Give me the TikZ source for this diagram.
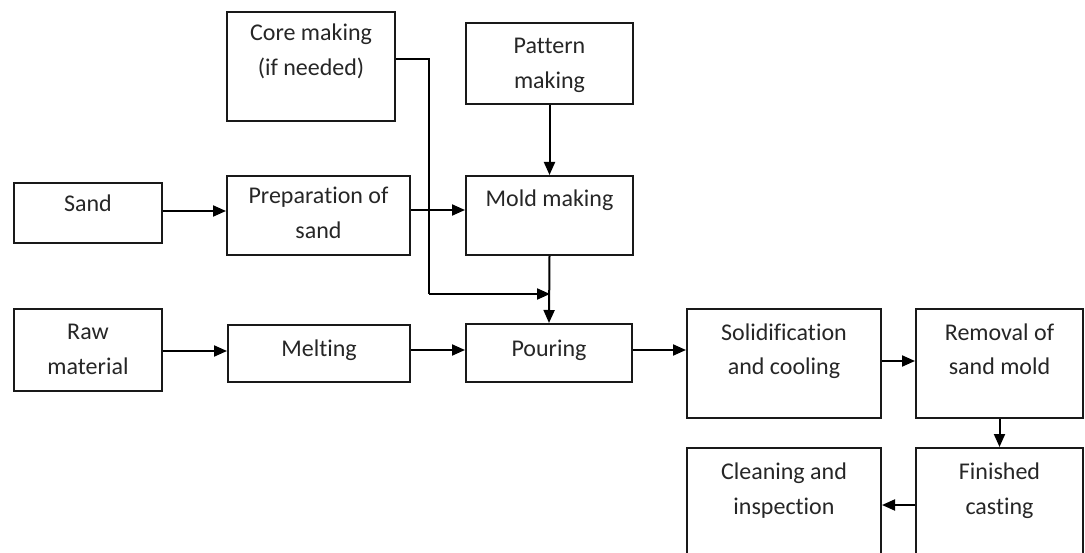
\documentclass[tikz,border=0pt]{standalone}
\usepackage{fontspec}
\setmainfont{Carlito}[Ligatures={NoCommon}]
\usetikzlibrary{arrows.meta}
\begin{document}
\begin{tikzpicture}[x=1pt,y=-1pt,
  box/.style={draw=black!90,line width=2pt,minimum width=#1,inner sep=0pt,rectangle},
  txt/.style={anchor=base,align=center,inner sep=0pt,text=black!85,font=\fontsize{24}{35}\selectfont},
  arr/.style={draw=black,line width=2pt,-{Triangle[length=13pt,width=11pt]}},
  ln/.style={draw=black,line width=2pt}]
\useasboundingbox (0,0) rectangle (1085,553);
\clip (0,0) rectangle (1085,553);
% boxes
\node[box=168pt,minimum height=109pt] (core) at (311,66.5) {};
\node[box=167pt,minimum height=81pt] (pattern) at (549.5,63.5) {};
\node[box=148pt,minimum height=60pt] (sand) at (88,213) {};
\node[box=183pt,minimum height=79pt] (prep) at (318.5,215.5) {};
\node[box=167pt,minimum height=79pt] (mold) at (549.5,215.5) {};
\node[box=148pt,minimum height=82pt] (raw) at (88,350) {};
\node[box=182pt,minimum height=57pt] (melt) at (319,353.5) {};
\node[box=166pt,minimum height=58pt] (pour) at (549,353) {};
\node[box=194pt,minimum height=109pt] (solid) at (784,363.5) {};
\node[box=167pt,minimum height=109pt] (removal) at (999.5,363.5) {};
\node[box=194pt,minimum height=112pt] (clean) at (784,504) {};
\node[box=167pt,minimum height=112pt] (finished) at (999.5,504) {};
% texts (base anchor = baseline of last line)
\node[txt] (coreT) at ([yshift=-65pt]core.north) {Core making\\(if needed)};
\node[txt] (patternT) at ([yshift=-67pt]pattern.north) {Pattern\\making};
\node[txt] (sandT) at ([yshift=-30pt]sand.north) {Sand};
\node[txt] (prepT) at ([yshift=-64pt]prep.north) {Preparation of\\sand};
\node[txt] (moldT) at ([yshift=-32pt]mold.north) {Mold making};
\node[txt] (rawT) at ([yshift=-66pt]raw.north) {Raw\\material};
\node[txt] (meltT) at ([yshift=-33pt]melt.north) {Melting};
\node[txt] (pourT) at ([yshift=-34pt]pour.north) {Pouring};
\node[txt] (solidT) at ([yshift=-67pt]solid.north) {Solidification\\and cooling};
\node[txt] (removalT) at ([yshift=-67pt]removal.north) {Removal of\\sand mold};
\node[txt] (cleanT) at ([yshift=-67pt]clean.north) {Cleaning and\\inspection};
\node[txt] (finishedT) at ([yshift=-67pt]finished.north) {Finished\\casting};
% connectors
\coordinate (bend1) at (429,59);
\coordinate (bend2) at (429,294);
\coordinate (join) at (550,294);
\draw[arr] ([yshift=2pt]sand.east) -- ([yshift=2pt]sand.east -| prep.west);
\draw[arr] ([yshift=5.5pt]prep.east) -- ([yshift=5.5pt]prep.east -| mold.west);
\draw[arr] (pattern.south) -- (mold.north);
\draw[ln] (core.east |- bend1) -- (bend1) -- (bend2);
\draw[arr] (bend2) -- (join);
\draw[arr] (mold.south) -- (pour.north);
\draw[arr] ([yshift=-1pt]raw.east) -- ([yshift=-1pt]raw.east -| melt.west);
\draw[arr] ([yshift=3.5pt]melt.east) -- ([yshift=3.5pt]melt.east -| pour.west);
\draw[arr] ([yshift=3pt]pour.east) -- ([yshift=3pt]pour.east -| solid.west);
\draw[arr] ([yshift=2.5pt]solid.east) -- ([yshift=2.5pt]solid.east -| removal.west);
\draw[arr] (removal.south) -- (finished.north);
\draw[arr] ([yshift=-1pt]finished.west) -- ([yshift=-1pt]finished.west -| clean.east);
\end{tikzpicture}
\end{document}
